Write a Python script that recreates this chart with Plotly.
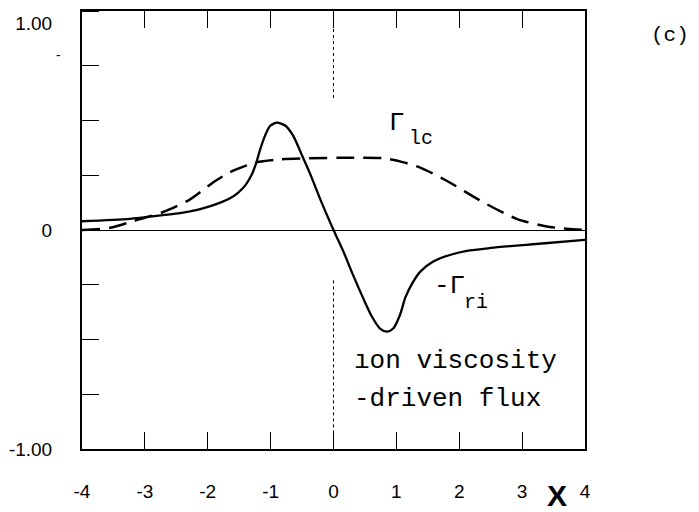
import plotly.graph_objects as go

# Γ_lc (dashed) and -Γ_ri (solid) vs X
lc_x = [-4.0, -3.55, -3.19, -2.71, -2.28, -1.91, -1.646, -1.38, -1.22, -0.85, -0.42, 0.26, 0.79, 1.10, 1.38, 1.80, 2.38, 2.92, 3.44, 4.0]
lc_y = [0.0, 0.01, 0.04, 0.082, 0.14, 0.218, 0.264, 0.295, 0.31, 0.323, 0.327, 0.33, 0.328, 0.31, 0.285, 0.225, 0.127, 0.05, 0.014, 0.0]

ri_x = [-4.0, -3.24, -2.71, -2.44, -2.12, -1.80, -1.646, -1.52, -1.40, -1.30, -1.23, -1.17, -1.09, -1.01, -0.90,
        -0.77, -0.64, -0.50, -0.37, -0.21, 0.0, 0.16, 0.31, 0.47, 0.61, 0.74, 0.85, 0.95, 1.06, 1.14, 1.25,
        1.38, 1.58, 1.85, 2.12, 2.5, 3.17, 4.0]
ri_y = [0.04, 0.051, 0.068, 0.077, 0.095, 0.125, 0.145, 0.17, 0.205, 0.253, 0.305, 0.365, 0.43, 0.475, 0.49,
        0.477, 0.43, 0.34, 0.255, 0.14, 0.0, -0.10, -0.205, -0.31, -0.395, -0.45, -0.464, -0.45, -0.386, -0.31, -0.245,
        -0.19, -0.145, -0.114, -0.095, -0.082, -0.065, -0.045]

x_tickvals = [-4, -3, -2, -1, 0, 1, 2, 3, 4]
x_ticktext = ["-4", "-3", "-2", "-1", "0", "1", "2", "3", "4"]
# the "1.00" label sits slightly below the top frame in the original
y_tickvals = [-1, 0, 0.945]
y_ticktext = ["-1.00", "0", "1.00"]

# dotted marker line at X = 0 (two segments)
mark_top_y = [1.0, 0.6]
mark_bot_y = [-0.23, -1.0]

fig = go.Figure()
fig.add_trace(go.Scatter(x=lc_x, y=lc_y, mode="lines",
                         line=dict(color="black", width=2.5, dash="18px,9px", shape="spline", smoothing=0.7)))
fig.add_trace(go.Scatter(x=ri_x, y=ri_y, mode="lines",
                         line=dict(color="black", width=2.3, shape="spline", smoothing=0.7)))
fig.add_trace(go.Scatter(x=[0, 0], y=mark_top_y, mode="lines", line=dict(color="black", width=1, dash="dot")))
fig.add_trace(go.Scatter(x=[0, 0], y=mark_bot_y, mode="lines", line=dict(color="black", width=1, dash="dot")))

tick_font = dict(family="Liberation Sans, Arial", size=19, color="black")
mono = "Liberation Mono, Courier New, monospace"

fig.update_layout(
    width=699, height=512,
    margin=dict(l=74, r=122, t=3, b=71, autoexpand=False),
    paper_bgcolor="white", plot_bgcolor="white",
    showlegend=False,
    xaxis=dict(range=[-4, 4], tickvals=x_tickvals, ticktext=x_ticktext, ticks="inside", ticklen=17,
               tickwidth=1.3, tickcolor="black", showline=True, linecolor="black", linewidth=2,
               mirror="ticks", showgrid=False, zeroline=False, tickfont=tick_font, ticklabelstandoff=24,
               automargin=False),
    yaxis=dict(range=[-1, 1], tickvals=y_tickvals, ticktext=y_ticktext, ticks="",
               showline=True, linecolor="black", linewidth=2,
               mirror=True, showgrid=False, zeroline=True, zerolinecolor="black", zerolinewidth=1.2,
               tickfont=tick_font, ticklabelstandoff=24, automargin=False, ticklabeloverflow="allow",
               minor=dict(tick0=0, dtick=0.25, ticks="inside", ticklen=17, tickwidth=1.3, tickcolor="black",
                          showgrid=False)),
    annotations=[
        dict(x=0.85, y=0.49, xref="x", yref="y", xanchor="left", yanchor="middle", showarrow=False,
             text="Γ", font=dict(family=mono, size=26, color="black")),
        dict(x=1.17, y=0.42, xref="x", yref="y", xanchor="left", yanchor="middle", showarrow=False,
             text="lc", font=dict(family=mono, size=20, color="black")),
        dict(x=1.567, y=-0.255, xref="x", yref="y", xanchor="left", yanchor="middle", showarrow=False,
             text="-Γ", font=dict(family=mono, size=26, color="black")),
        dict(x=2.05, y=-0.33, xref="x", yref="y", xanchor="left", yanchor="middle", showarrow=False,
             text="ri", font=dict(family=mono, size=20, color="black")),
        dict(x=0.294, y=-0.598, xref="x", yref="y", xanchor="left", yanchor="middle", showarrow=False,
             text="ıon viscosity", font=dict(family=mono, size=26, color="black")),
        dict(x=0.294, y=-0.772, xref="x", yref="y", xanchor="left", yanchor="middle", showarrow=False,
             text="-driven flux", font=dict(family=mono, size=26, color="black")),
        dict(x=1.169, y=0.945, xref="paper", yref="paper", xanchor="center", yanchor="middle", showarrow=False,
             text="(c)", font=dict(family=mono, size=21, color="black")),
        dict(x=0.944, y=-0.107, xref="paper", yref="paper", xanchor="center", yanchor="middle", showarrow=False,
             text="<b>X</b>", font=dict(family="Liberation Sans, Arial", size=30, color="black")),
        dict(x=-0.046, y=0.9, xref="paper", yref="paper", xanchor="center", yanchor="middle", showarrow=False,
             text="-", font=dict(family="Liberation Sans, Arial", size=14, color="black")),
    ],
)

fig.write_html("out.html")
